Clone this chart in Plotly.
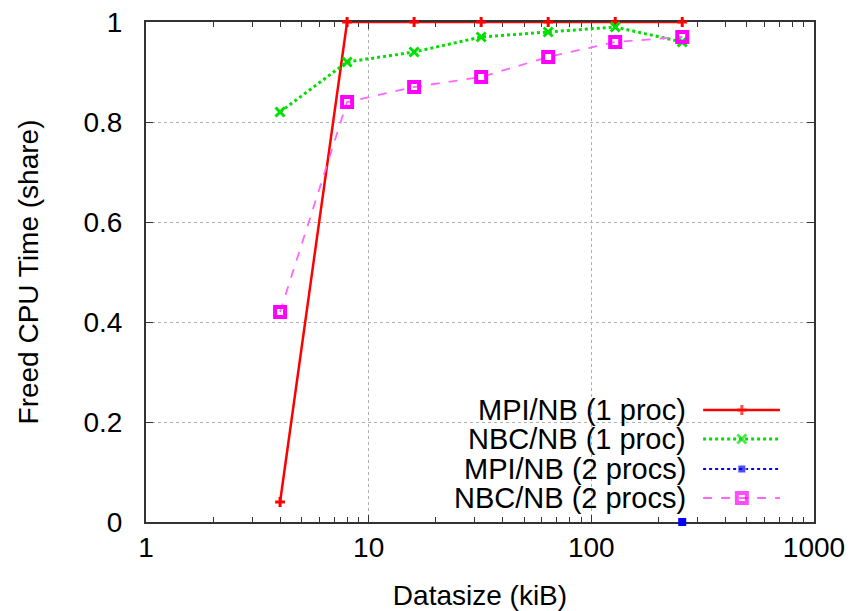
import plotly.graph_objects as go

# data sizes in kiB
sizes = [4, 8, 16, 32, 64, 128, 256]

mpi_1proc = [0.04, 1.0, 1.0, 1.0, 1.0, 1.0, 1.0]
nbc_1proc = [0.82, 0.92, 0.94, 0.97, 0.98, 0.99, 0.96]
mpi_2procs = [None, None, None, None, None, None, 0.0]
nbc_2procs = [0.42, 0.84, 0.87, 0.89, 0.93, 0.96, 0.97]

series_names = ["MPI/NB (1 proc)", "NBC/NB (1 proc)", "MPI/NB (2 procs)", "NBC/NB (2 procs)"]

FONT = "Liberation Sans, Arial, Helvetica, sans-serif"
FSIZE = 29

styles = [
    dict(line=dict(color="#ff0000", width=2.5),
         marker=dict(symbol="cross-thin", size=7, color="#ff0000", line=dict(color="#ff0000", width=3))),
    dict(line=dict(color="#00e000", width=3, dash="dot"),
         marker=dict(symbol="x-thin", size=9, color="#00e000", line=dict(color="#00e000", width=3))),
    dict(line=dict(color="#0000ff", width=2, dash="dot"),
         marker=dict(symbol="square", size=8, color="#0000ff")),
    dict(line=dict(color="#ff66ff", width=1.8, dash="dash"),
         marker=dict(symbol="square-open", size=10, color="#ff00ff", line=dict(color="#ff00ff", width=4))),
]

fig = go.Figure()

for name, vals, st in zip(series_names, [mpi_1proc, nbc_1proc, mpi_2procs, nbc_2procs], styles):
    fig.add_trace(go.Scatter(
        x=sizes, y=vals, mode="lines+markers", name=name,
        line=st["line"], marker=st["marker"],
        cliponaxis=False, showlegend=False, connectgaps=False,
    ))

# gnuplot-style key: text on the left, sample on the right
row_y = [0.224, 0.166, 0.106, 0.048]
for name, st, yy in zip(series_names, styles, row_y):
    msize = st["marker"]["size"]
    fig.add_trace(go.Scatter(
        x=[0.834, 0.892, 0.949], y=[yy, yy, yy], xaxis="x2", yaxis="y2",
        mode="lines+markers", line=st["line"],
        marker=dict(st["marker"], size=[0, msize, 0]),
        showlegend=False, hoverinfo="skip", cliponaxis=False,
    ))
    fig.add_annotation(
        x=0.811, y=yy, xref="paper", yref="paper", text=name,
        showarrow=False, xanchor="right", yanchor="middle",
        font=dict(family=FONT, size=FSIZE, color="black"),
    )

# key area hides the grid
fig.add_shape(type="rect", xref="paper", yref="paper",
              x0=0.392, x1=0.995, y0=0.012, y1=0.25,
              fillcolor="white", line=dict(width=0), layer="between")

axis_common = dict(
    showline=True, linecolor="#333333", linewidth=2, mirror="ticks",
    ticks="inside", ticklen=7, tickcolor="#333333", tickwidth=1,
    showgrid=True, gridcolor="#b0b0b0", griddash="dot", gridwidth=1,
    zeroline=False, automargin=False, layer="below traces",
    ticklabeloverflow="allow",
    tickfont=dict(family=FONT, size=28, color="black"),
)

# the page body adds 8px around the figure, so the figure is 8px smaller
fig.update_layout(
    width=845, height=603,
    margin=dict(l=138, r=39, t=14, b=89, autoexpand=False),
    plot_bgcolor="white", paper_bgcolor="white",
    font=dict(family=FONT, size=FSIZE, color="black"),
    xaxis=dict(
        axis_common, type="log", range=[0, 3], dtick=1,
        tickvals=[1, 10, 100, 1000], ticktext=["1", "10", "100", "1000"],
        minor=dict(ticks="inside", ticklen=5, tickcolor="#333333", tickwidth=1, showgrid=False,
                   tickvals=[m * 10 ** e for e in range(3) for m in range(2, 10)]),
        title=dict(text="Datasize (kiB)", standoff=28, font=dict(family=FONT, size=28)),
        ticklabelstandoff=-1,
    ),
    yaxis=dict(
        axis_common, range=[0, 1], dtick=0.2,
        title=dict(text="Freed CPU Time (share)", standoff=37, font=dict(family=FONT, size=28)),
        ticklabelstandoff=16,
    ),
    xaxis2=dict(range=[0, 1], overlaying="x", visible=False, fixedrange=True),
    yaxis2=dict(range=[0, 1], overlaying="y", visible=False, fixedrange=True),
)

fig.write_html("out.html")
